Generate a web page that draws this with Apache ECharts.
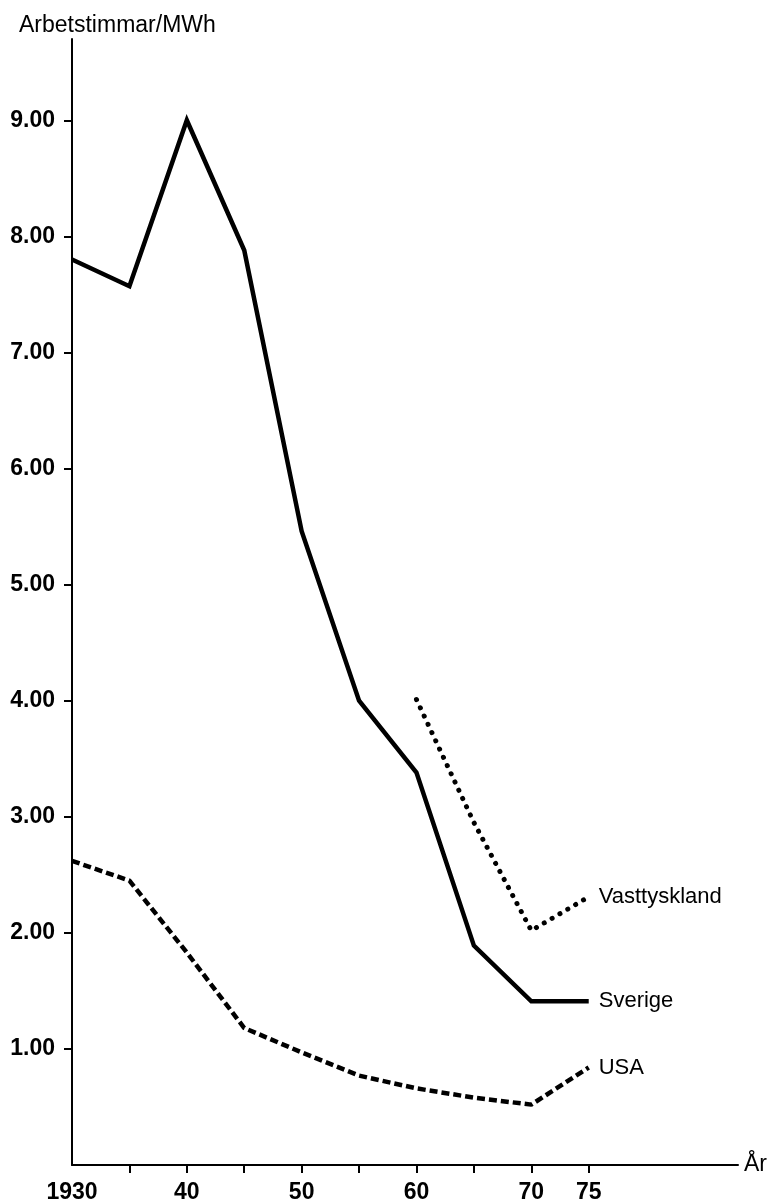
<!DOCTYPE html>
<html>
<head>
<meta charset="utf-8">
<script src="https://cdn.jsdelivr.net/npm/echarts@6/dist/echarts.min.js"></script>
<style>html,body{margin:0;padding:0;background:#fff;}#c{width:770px;height:1204px;}</style>
</head>
<body>
<div id="c"></div>
<script>
const years = [1930, 1935, 1940, 1945, 1950, 1955, 1960, 1965, 1970, 1975];
const sverige = [7.8, 7.57, 9.0, 7.88, 5.46, 4.0, 3.38, 1.89, 1.41, 1.41];
const usa = [2.62, 2.45, 1.83, 1.18, 0.97, 0.77, 0.66, 0.58, 0.52, 0.84];
const vtYears = [1960, 1965, 1970, 1975];
const vasttyskland = [4.01, 2.95, 2.02, 2.31];
const yTicks = [1, 2, 3, 4, 5, 6, 7, 8, 9];
const xTicks = [1935, 1940, 1945, 1950, 1955, 1960, 1965, 1970, 1975];
const xLabels = [1930, 1940, 1950, 1960, 1970, 1975];

const FONT = 'Liberation Sans';
const pairs = (xs, ys) => xs.map((x, i) => [x, ys[i]]);
const endLbl = {
  show: true, formatter: '{a}', distance: 10,
  color: '#000', fontFamily: FONT, fontSize: 22
};

const chart = echarts.init(document.getElementById('c'), null, {renderer: 'canvas'});
chart.setOption({
  backgroundColor: '#fff',
  animation: false,
  title: {
    text: 'Arbetstimmar/MWh', left: 14, top: 9,
    textStyle: {color: '#000', fontFamily: FONT, fontSize: 23, fontWeight: 'normal'}
  },
  grid: {left: 72, right: 31, top: 39, bottom: 37},
  xAxis: {
    type: 'value', min: 1930, max: 1988,
    name: 'År', nameLocation: 'end', nameGap: 6,
    nameTextStyle: {color: '#000', fontFamily: FONT, fontSize: 23, verticalAlign: 'middle'},
    axisLine: {show: true, lineStyle: {color: '#000', width: 2}},
    axisTick: {show: true, inside: false, length: 8, customValues: xTicks, lineStyle: {color: '#000', width: 2}},
    axisLabel: {
      show: true, customValues: xLabels, margin: 16,
      color: '#000', fontFamily: FONT, fontSize: 23, fontWeight: 'bold',
      formatter: v => v === 1930 ? '1930' : String(v % 100)
    },
    splitLine: {show: false}
  },
  yAxis: {
    type: 'value', min: 0, max: 9.7,
    axisLine: {show: true, lineStyle: {color: '#000', width: 2}},
    axisTick: {show: true, inside: false, length: 8, customValues: yTicks, lineStyle: {color: '#000', width: 2}},
    axisLabel: {
      show: true, customValues: yTicks, margin: 17,
      color: '#000', fontFamily: FONT, fontSize: 23, fontWeight: 'bold',
      formatter: v => v.toFixed(2)
    },
    splitLine: {show: false}
  },
  series: [
    {
      name: 'Sverige', type: 'line', symbol: 'none',
      data: pairs(years, sverige),
      lineStyle: {color: '#000', width: 4.5, type: 'solid', join: 'miter'},
      endLabel: endLbl
    },
    {
      name: 'USA', type: 'line', symbol: 'none',
      data: pairs(years, usa),
      lineStyle: {color: '#000', width: 4.5, type: [8, 4], cap: 'butt'},
      endLabel: endLbl
    },
    {
      name: 'Vasttyskland', type: 'line', symbol: 'none',
      data: pairs(vtYears, vasttyskland),
      lineStyle: {color: '#000', width: 5, type: [0.1, 9], cap: 'round'},
      endLabel: endLbl
    }
  ]
});
</script>
</body>
</html>
